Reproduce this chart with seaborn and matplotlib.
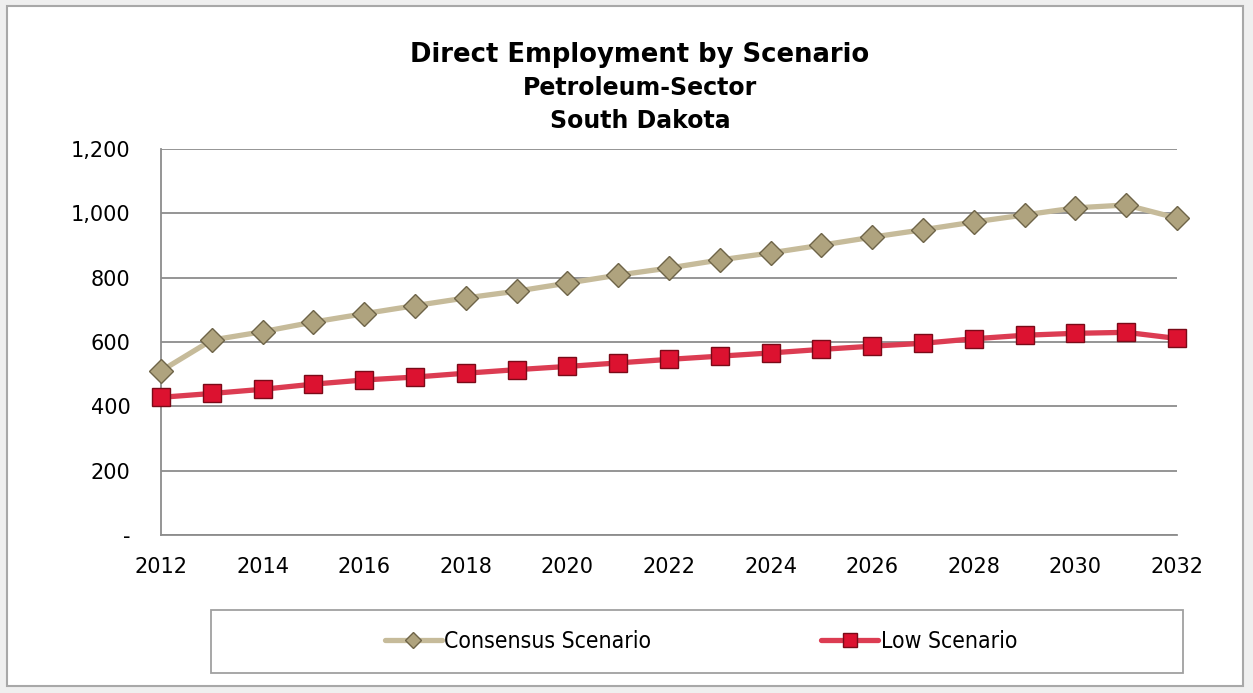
import numpy as np
import pandas as pd
import matplotlib.pyplot as plt
import seaborn as sns
from matplotlib.patches import Rectangle
from matplotlib.lines import Line2D
from matplotlib.ticker import FuncFormatter, MultipleLocator

# values
years = list(range(2012, 2033))
consensus = [510, 606, 632, 662, 688, 713, 737, 758, 783, 808, 830,
             855, 877, 901, 926, 949, 973, 995, 1017, 1026, 985]
low = [428, 440, 453, 469, 482, 491, 503, 514, 524, 535, 546,
       556, 566, 577, 587, 596, 610, 621, 627, 630, 611]

df = pd.DataFrame({'Year': years, 'Consensus': consensus, 'Low': low})

sns.set_style("white")
plt.rcParams['font.family'] = ['DejaVu Sans']
plt.rcParams['text.color'] = 'black'
plt.rcParams['xtick.color'] = 'black'
plt.rcParams['ytick.color'] = 'black'

fig = plt.figure(figsize=(12.53, 6.93), dpi=100)
fig.patch.set_facecolor('#EFEFEF')

# chart area frame
W, H = 1253, 693
fig.add_artist(Rectangle((7 / W, 7 / H), 1236 / W, 680 / H, transform=fig.transFigure,
                         facecolor='white', edgecolor='#A8A8A8', linewidth=1.5, zorder=0))

ax = fig.add_axes([161 / W, 1 - 535 / H, 1016 / W, 386 / H])
ax.set_facecolor('white')

cons_line = '#C6BB9A'
cons_mark = '#AFA37E'
low_line = '#DC3C52'
low_mark = '#DC1230'

sns.lineplot(data=df, x='Year', y='Consensus', ax=ax, color=cons_line, linewidth=3.8,
             marker='D', markersize=12, markerfacecolor=cons_mark, markeredgecolor='#6E6448',
             markeredgewidth=1, zorder=3, clip_on=False)
sns.lineplot(data=df, x='Year', y='Low', ax=ax, color=low_line, linewidth=3.8,
             marker='s', markersize=13, markerfacecolor=low_mark, markeredgecolor='#7A0A18',
             markeredgewidth=1, zorder=4, clip_on=False)

ax.set_xlim(2012, 2032)
ax.set_ylim(0, 1200)
ax.yaxis.set_major_locator(MultipleLocator(200))
ax.yaxis.set_major_formatter(FuncFormatter(lambda v, p: '-' if v == 0 else f'{int(v):,}'))
ax.xaxis.set_major_locator(MultipleLocator(2))
ax.xaxis.set_minor_locator(MultipleLocator(1))
ax.grid(axis='y', color='#8C8C8C', linewidth=1.3)
ax.set_axisbelow(True)
ax.set_xlabel('')
ax.set_ylabel('')

for s in ['top', 'right']:
    ax.spines[s].set_visible(False)
for s in ['left', 'bottom']:
    ax.spines[s].set_color('#8C8C8C')
    ax.spines[s].set_linewidth(1.3)

ax.tick_params(axis='y', length=0, labelsize=15, pad=22, labelcolor='black')
ax.tick_params(axis='x', which='major', direction='inout', length=10, width=1.3,
               color='#8C8C8C', labelsize=15, pad=11, labelcolor='black')
ax.tick_params(axis='x', which='minor', direction='in', length=5, width=1.3, color='#8C8C8C')

# titles
fig.text(640 / W, 1 - 55 / H, 'Direct Employment by Scenario', ha='center', va='center',
         fontsize=18.6, fontweight='bold', color='black')
fig.text(640 / W, 1 - 88 / H, 'Petroleum-Sector', ha='center', va='center',
         fontsize=17, fontweight='bold', color='black')
fig.text(640 / W, 1 - 121 / H, 'South Dakota', ha='center', va='center',
         fontsize=17, fontweight='bold', color='black')

# legend box
fig.add_artist(Rectangle((211 / W, 1 - 673 / H), 972 / W, 63 / H, transform=fig.transFigure,
                         facecolor='white', edgecolor='#A0A0A0', linewidth=1.3, zorder=1))
handles = [
    Line2D([], [], color=cons_line, linewidth=3.8, marker='D', markersize=8,
           markerfacecolor=cons_mark, markeredgecolor='#6E6448'),
    Line2D([], [], color=low_line, linewidth=3.8, marker='s', markersize=10,
           markerfacecolor=low_mark, markeredgecolor='#7A0A18'),
]
leg = fig.legend(handles, ['Consensus Scenario', 'Low Scenario'], loc='center',
                 bbox_to_anchor=(701 / W, 1 - 642 / H), ncol=2, frameon=False,
                 handlelength=2.5, handletextpad=0.1, columnspacing=7.4,
                 prop={'family': 'DejaVu Sans', 'stretch': 'condensed', 'size': 16.5})
leg.set_zorder(2)
for t in leg.get_texts():
    t.set_color('black')

fig.savefig('out.png', dpi=100, facecolor=fig.get_facecolor())
